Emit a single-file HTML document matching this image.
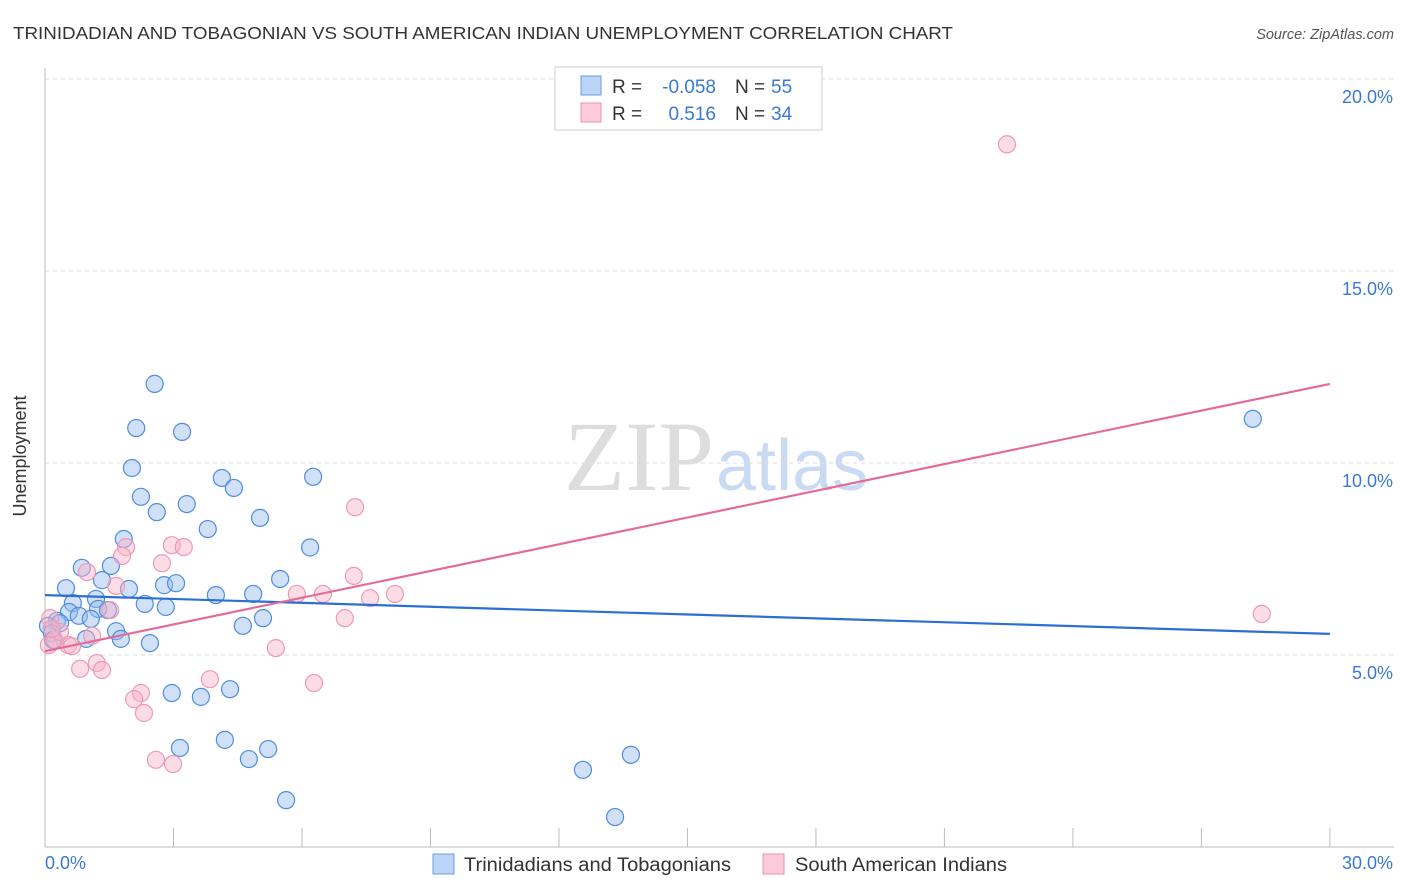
<!DOCTYPE html>
<html><head><meta charset="utf-8"><style>
body{margin:0;background:#fff;font-family:"Liberation Sans",sans-serif;}
#wrap{position:relative;width:1406px;height:892px;overflow:hidden;}
</style></head><body>
<div id="wrap">
<svg id="svg" width="1406" height="892" xmlns="http://www.w3.org/2000/svg">
<text x="13" y="39" font-size="17.5" fill="#333" textLength="940" lengthAdjust="spacingAndGlyphs">TRINIDADIAN AND TOBAGONIAN VS SOUTH AMERICAN INDIAN UNEMPLOYMENT CORRELATION CHART</text>
<text x="1394" y="39" font-size="14.5" fill="#555" font-style="italic" text-anchor="end">Source: ZipAtlas.com</text>
<text x="714" y="490" font-size="100" fill="#ddd" font-family="Liberation Serif,serif" text-anchor="end">ZIP</text>
<text x="716" y="490" font-size="72" fill="#c9daf3">atlas</text>
<g id="grid"></g><g id="axes"></g><g id="pts"></g><g id="trend"></g>
<text x="26" y="456" font-size="18" fill="#333" text-anchor="middle" transform="rotate(-90 26 456)">Unemployment</text>
<g>
<rect x="555" y="67" width="267" height="63" fill="#fff" stroke="#ccc"/>
<rect x="581" y="76" width="20" height="19" fill="#bcd4f5" stroke="#6a9be0"/>
<rect x="581" y="103" width="20" height="19" fill="#fbcbda" stroke="#ec8fae"/>
<text x="612" y="93" font-size="19" fill="#333">R =</text>
<text x="716" y="93" font-size="19" fill="#3a78d6" text-anchor="end">-0.058</text>
<text x="735" y="93" font-size="19" fill="#333">N =</text>
<text x="771" y="93" font-size="19" fill="#3a78d6">55</text>
<text x="612" y="120" font-size="19" fill="#333">R =</text>
<text x="716" y="120" font-size="19" fill="#3a78d6" text-anchor="end">0.516</text>
<text x="735" y="120" font-size="19" fill="#333">N =</text>
<text x="771" y="120" font-size="19" fill="#3a78d6">34</text>
</g>
<g>
<rect x="433" y="854" width="21" height="20" fill="#bcd4f5" stroke="#6a9be0"/>
<text x="464" y="871" font-size="19" fill="#333" textLength="267" lengthAdjust="spacingAndGlyphs">Trinidadians and Tobagonians</text>
<rect x="763" y="854" width="21" height="20" fill="#fbcbda" stroke="#ec8fae"/>
<text x="795" y="871" font-size="19" fill="#333" textLength="212" lengthAdjust="spacingAndGlyphs">South American Indians</text>
</g>
</svg>
</div>
<script>
const yTicks=[5,10,15,20];
const yTickLabels=["5.0%","10.0%","15.0%","20.0%"];
const xTicks=[0,3,6,9,12,15,18,21,24,27,30];
const blueX=[2.56,2.13,3.2,2.03,4.13,6.26,4.41,2.24,3.31,2.61,5.02,3.8,1.84,6.19,0.86,1.54,1.33,0.49,1.96,2.78,3.06,5.49,3.99,4.86,1.19,0.65,2.33,2.82,0.56,1.24,0.79,1.47,1.07,5.09,4.62,1.66,1.77,0.96,2.45,0.28,0.07,0.16,0.35,0.19,2.96,3.64,4.32,3.15,4.2,5.21,4.76,5.63,12.56,13.68,13.31,28.2];
const blueY=[12.06,10.91,10.81,9.87,9.61,9.64,9.35,9.12,8.93,8.72,8.57,8.28,8.02,7.8,7.27,7.32,6.95,6.74,6.72,6.82,6.87,6.98,6.56,6.59,6.46,6.35,6.33,6.25,6.12,6.2,6.02,6.17,5.94,5.96,5.76,5.62,5.42,5.42,5.31,5.89,5.76,5.57,5.83,5.39,4.01,3.91,4.11,2.58,2.79,2.55,2.29,1.22,2.01,2.4,0.78,11.15];
const pinkX=[22.46,7.24,28.41,2.96,3.24,1.89,1.8,2.73,7.21,0.98,1.66,1.52,5.88,6.49,8.17,7.59,7.0,1.1,0.54,0.63,0.09,0.23,0.35,0.12,5.39,1.21,0.82,1.33,3.85,6.28,2.24,2.08,2.31,2.59,2.99,0.16];
const pinkY=[18.3,8.85,6.07,7.86,7.81,7.81,7.58,7.39,7.06,7.16,6.8,6.17,6.59,6.59,6.59,6.48,5.96,5.5,5.26,5.23,5.26,5.39,5.6,5.96,5.18,4.79,4.64,4.61,4.37,4.27,4.01,3.85,3.49,2.27,2.16,5.68];
const trendX=[0,30];
const blueTrend=[6.56,5.55];
const pinkTrend=[5.1,12.06];
const X=v=>45+v*42.83, Y=v=>847-v*38.4;
const NS="http://www.w3.org/2000/svg";
function mk(tag,attrs,parent){const e=document.createElementNS(NS,tag);for(const k in attrs)e.setAttribute(k,attrs[k]);document.getElementById(parent).appendChild(e);return e;}
yTicks.forEach((t,i)=>{
 const l=mk('line',{x1:45,x2:1394,y1:Y(t),y2:Y(t),stroke:'#ddd','stroke-dasharray':'4,4'},'grid');
 
 
 const tx=mk('text',{x:1393,y:Y(t)+24,'font-size':18,fill:'#3a78d6','text-anchor':'end'},'grid');
 tx.textContent=yTickLabels[i];
 
 
});
const ax=mk('line',{x1:45,x2:45,y1:68,y2:847,stroke:'#bbb'},'axes');


const bx=mk('line',{x1:45,x2:1394,y1:847,y2:847,stroke:'#bbb'},'axes');


xTicks.forEach(t=>{
 const l=mk('line',{x1:X(t),x2:X(t),y1:828,y2:847,stroke:'#bbb'},'axes');
 
 
});
const x0=mk('text',{x:45,y:869,'font-size':18,fill:'#3a78d6'},'axes');x0.textContent='0.0%';


const x1=mk('text',{x:1393,y:869,'font-size':18,fill:'#3a78d6','text-anchor':'end'},'axes');x1.textContent='30.0%';


blueX.forEach((v,i)=>{
 const c=mk('circle',{cx:X(v),cy:Y(blueY[i]),r:8.5,fill:'rgba(150,188,238,0.45)',stroke:'#4f8ddf','stroke-width':1.2},'pts');
 
 
});
pinkX.forEach((v,i)=>{
 const c=mk('circle',{cx:X(v),cy:Y(pinkY[i]),r:8.5,fill:'rgba(248,180,200,0.45)',stroke:'#ee99b6','stroke-width':1.2},'pts');
 
 
});
const bt=mk('line',{x1:X(trendX[0]),x2:X(trendX[1]),y1:Y(blueTrend[0]),y2:Y(blueTrend[1]),stroke:'#2a6fd6','stroke-width':2.2},'trend');


const pt=mk('line',{x1:X(trendX[0]),x2:X(trendX[1]),y1:Y(pinkTrend[0]),y2:Y(pinkTrend[1]),stroke:'#e46a98','stroke-width':2.2},'trend');


</script>
</body></html>
